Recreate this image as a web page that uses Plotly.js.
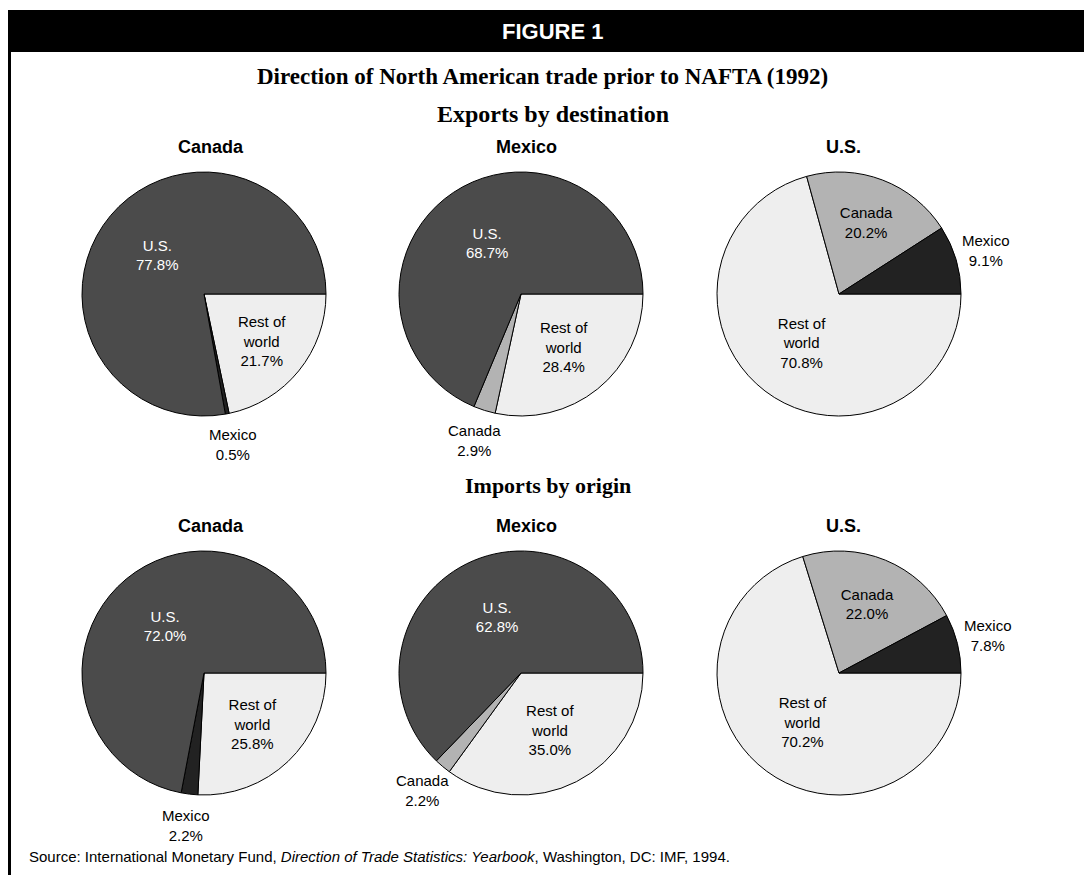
<!DOCTYPE html>
<html>
<head>
<meta charset="utf-8">
<script src="https://cdn.plot.ly/plotly-3.0.1.min.js"></script>
<style>
html,body{margin:0;padding:0;background:#fff;}
#chart{width:1084px;height:875px;}
</style>
</head>
<body>
<div id="chart"></div>
<script>
// ---- data ----
// All slices listed clockwise starting from 3 o'clock
const partnersCanada = ["Rest of world", "Mexico", "U.S."];   // Canada pies
const partnersMexico = ["Rest of world", "Canada", "U.S."];   // Mexico pies
const partnersUS     = ["Rest of world", "Canada", "Mexico"]; // U.S. pies

const exportsCanada = [21.7, 0.5, 77.8];
const exportsMexico = [28.4, 2.9, 68.7];
const exportsUS     = [70.8, 20.2, 9.1];

const importsCanada = [25.8, 2.2, 72.0];
const importsMexico = [35.0, 2.2, 62.8];
const importsUS     = [70.2, 22.0, 7.8];

const pieTitles = ["Canada", "Mexico", "U.S."];
const rowTitles = ["Exports by destination", "Imports by origin"];

// ---- styling ----
const W = 1084, H = 875;
const colors = {"U.S.": "#4b4b4b", "Rest of world": "#eeeeee", "Canada": "#b3b3b3", "Mexico": "#222222"};
const textColors = {"U.S.": "#ffffff", "Rest of world": "#000000", "Canada": "#000000", "Mexico": "#000000"};
const sans = "Liberation Sans, Arial, sans-serif";
const serif = "Liberation Serif, Times New Roman, serif";

const centersX = [204, 521, 839];
const centersY = [294, 673];
const titleX = [211, 526, 843];
const R = 122;
const OUT_R = 1.26 * R;   // distance of outside label centres
const SMALL = 10;         // slices below this share get an outside label

const ann = [];
function px(x) { return x / W; }
function py(y) { return 1 - y / H; }

function pie(labels, values, col, row) {
  const cx = centersX[col], cy = centersY[row];
  const disp = labels.map(l => l.replace("Rest of world", "Rest of<br>world"));
  const total = values.reduce((a, b) => a + b, 0);
  const pos = values.map(v => v < SMALL ? "none" : "inside");
  // outside labels for small slices, placed at the slice's mid-angle
  let cum = 0;
  values.forEach((v, i) => {
    const mid = (cum + v / 2) / total * 2 * Math.PI; // clockwise from 3 o'clock
    cum += v;
    if (v < SMALL) {
      ann.push({text: disp[i] + "<br>" + v.toFixed(1) + "%",
        x: px(cx + OUT_R * Math.cos(mid)), y: py(cy + OUT_R * Math.sin(mid)),
        xref: "paper", yref: "paper", showarrow: false, xanchor: "center", yanchor: "middle",
        font: {family: sans, size: 15, color: "#000"}});
    }
  });
  return {
    type: "pie",
    labels: labels,
    values: values,
    text: disp,
    texttemplate: "%{text}<br>%{value:.1f}%",
    textposition: pos,
    insidetextorientation: "horizontal",
    sort: false,
    direction: "clockwise",
    rotation: 90,
    marker: {colors: labels.map(l => colors[l]), line: {color: "#000", width: 1}},
    insidetextfont: {family: sans, size: 15, color: labels.map(l => textColors[l])},
    hoverinfo: "none",
    showlegend: false,
    domain: {x: [(cx - R) / W, (cx + R) / W], y: [(H - cy - R) / H, (H - cy + R) / H]}
  };
}

const data = [
  pie(partnersCanada, exportsCanada, 0, 0),
  pie(partnersMexico, exportsMexico, 1, 0),
  pie(partnersUS, exportsUS, 2, 0),
  pie(partnersCanada, importsCanada, 0, 1),
  pie(partnersMexico, importsMexico, 1, 1),
  pie(partnersUS, importsUS, 2, 1)
];

ann.push({text: "<b>FIGURE 1</b>", x: px(552), y: py(31), xref: "paper", yref: "paper", showarrow: false,
  font: {family: sans, size: 22, color: "#fff"}, xanchor: "center", yanchor: "middle"});
ann.push({text: "<b>Direction of North American trade prior to NAFTA (1992)</b>", x: px(542), y: py(77), xref: "paper", yref: "paper",
  showarrow: false, font: {family: serif, size: 23, color: "#000"}, xanchor: "center", yanchor: "middle"});
const rowTitleY = [114, 486];
const rowTitleX = [553, 548];
const rowTitleSize = [24, 22];
const pieTitleY = [147, 526];
rowTitles.forEach((t, i) => ann.push({text: "<b>" + t + "</b>", x: px(rowTitleX[i]), y: py(rowTitleY[i]), xref: "paper", yref: "paper",
  showarrow: false, font: {family: serif, size: rowTitleSize[i], color: "#000"}, xanchor: "center", yanchor: "middle"}));
for (let r = 0; r < 2; r++) {
  pieTitles.forEach((t, i) => ann.push({text: "<b>" + t + "</b>", x: px(titleX[i]), y: py(pieTitleY[r]), xref: "paper", yref: "paper",
    showarrow: false, font: {family: sans, size: 18, color: "#000"}, xanchor: "center", yanchor: "middle"}));
}
ann.push({text: "Source: International Monetary Fund, <i>Direction of Trade Statistics: Yearbook</i>, Washington, DC: IMF, 1994.",
  x: px(27), y: py(856), xref: "paper", yref: "paper", showarrow: false, font: {family: sans, size: 15, color: "#000"},
  xanchor: "left", yanchor: "middle"});

const shapes = [
  {type: "rect", xref: "paper", yref: "paper", x0: px(8), x1: 1, y0: py(52), y1: py(10), fillcolor: "#000", line: {width: 0}, layer: "below"},
  {type: "line", xref: "paper", yref: "paper", x0: px(9.5), x1: px(9.5), y0: py(50), y1: 0, line: {color: "#000", width: 3}}
];

const layout = {
  width: W, height: H,
  margin: {l: 0, r: 0, t: 0, b: 0},
  paper_bgcolor: "#fff", plot_bgcolor: "#fff",
  annotations: ann, shapes: shapes,
  showlegend: false
};
Plotly.newPlot("chart", data, layout, {displayModeBar: false, staticPlot: true});
</script>
</body>
</html>
